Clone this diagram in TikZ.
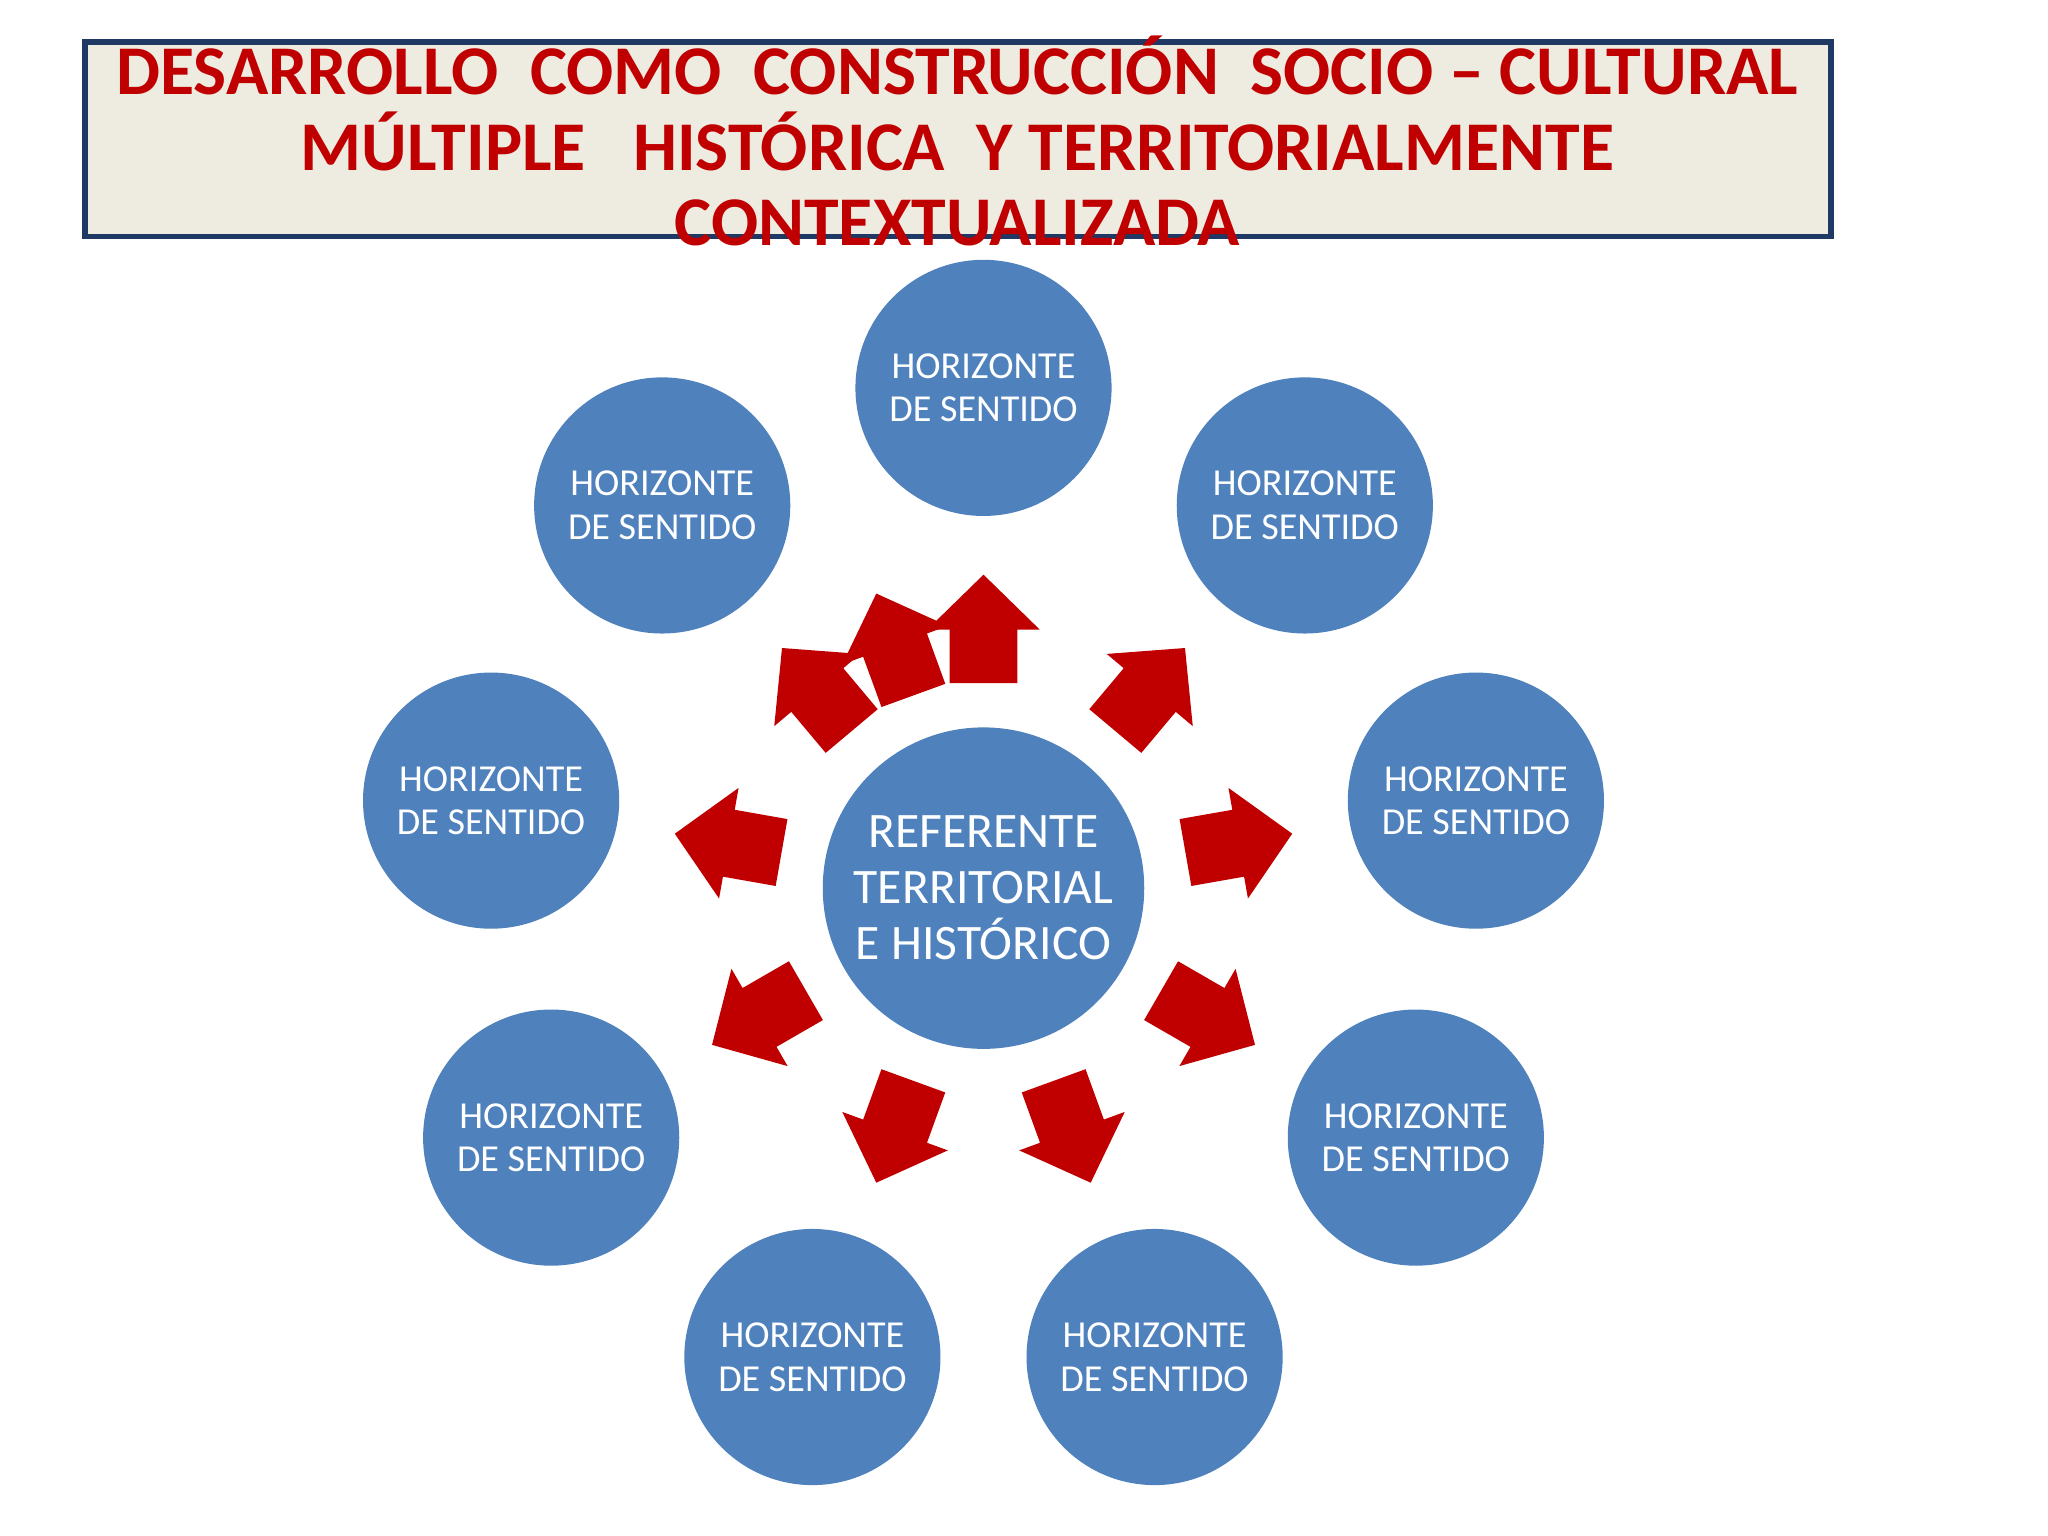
\documentclass[tikz,border=0pt]{standalone}
\usepackage{fontspec}
\setmainfont{Carlito}
\usetikzlibrary{calc}
\definecolor{circblue}{HTML}{4F81BD}
\definecolor{arrred}{HTML}{C00000}
\definecolor{titlebg}{HTML}{EEECE1}
\definecolor{titleborder}{HTML}{1F3864}
\tikzset{
  horiz/.style={circle,fill=circblue,minimum size=1.96cm,inner sep=0pt,text=white,align=center,font=\fontsize{8.3}{9.5}\selectfont},
  center/.style={circle,fill=circblue,minimum size=2.46cm,inner sep=0pt,text=white,align=center,font=\fontsize{10.8}{12.2}\selectfont},
  blockarrow/.style={fill=arrred}
}
\begin{document}
\begin{tikzpicture}[x=0.01cm,y=0.01cm]
\useasboundingbox (0,0) rectangle (1568,1176);
\fill[white] (0,0) rectangle (1568,1176);
\draw[titleborder,fill=titlebg,line width=1.2pt] (65,995) rectangle (1402,1144);
\node[text=arrred,font=\fontsize{15.2}{16.4}\selectfont\bfseries,align=center] (title) at (733,1068)
 {DESARROLLO\ \ COMO\ \ CONSTRUCCIÓN\ \ SOCIO -- CULTURAL\\MÚLTIPLE\ \ \ HISTÓRICA\ \ Y TERRITORIALMENTE\\CONTEXTUALIZADA};
\node[center] (c) at (753,496) {REFERENTE\\TERRITORIAL\\E HISTÓRICO};
\foreach \n/\x/\y in {1/753/879,2/999/789,3/1130/563,4/1084/305,5/884/137,6/622/137,7/422/305,8/376/563,9/507/789}
  \node[horiz] (h\n) at (\x,\y) {HORIZONTE\\DE SENTIDO};
\foreach \a in {90,50,10,-30,-70,110,130,170,210,250}{
  \begin{scope}[shift={($(c)+(\a:198)$)},rotate=\a]
    \fill[blockarrow] (-41,-26) -- (0,-26) -- (0,-43) -- (42,0) -- (0,43) -- (0,26) -- (-41,26) -- cycle;
  \end{scope}
}
\end{tikzpicture}
\end{document}
